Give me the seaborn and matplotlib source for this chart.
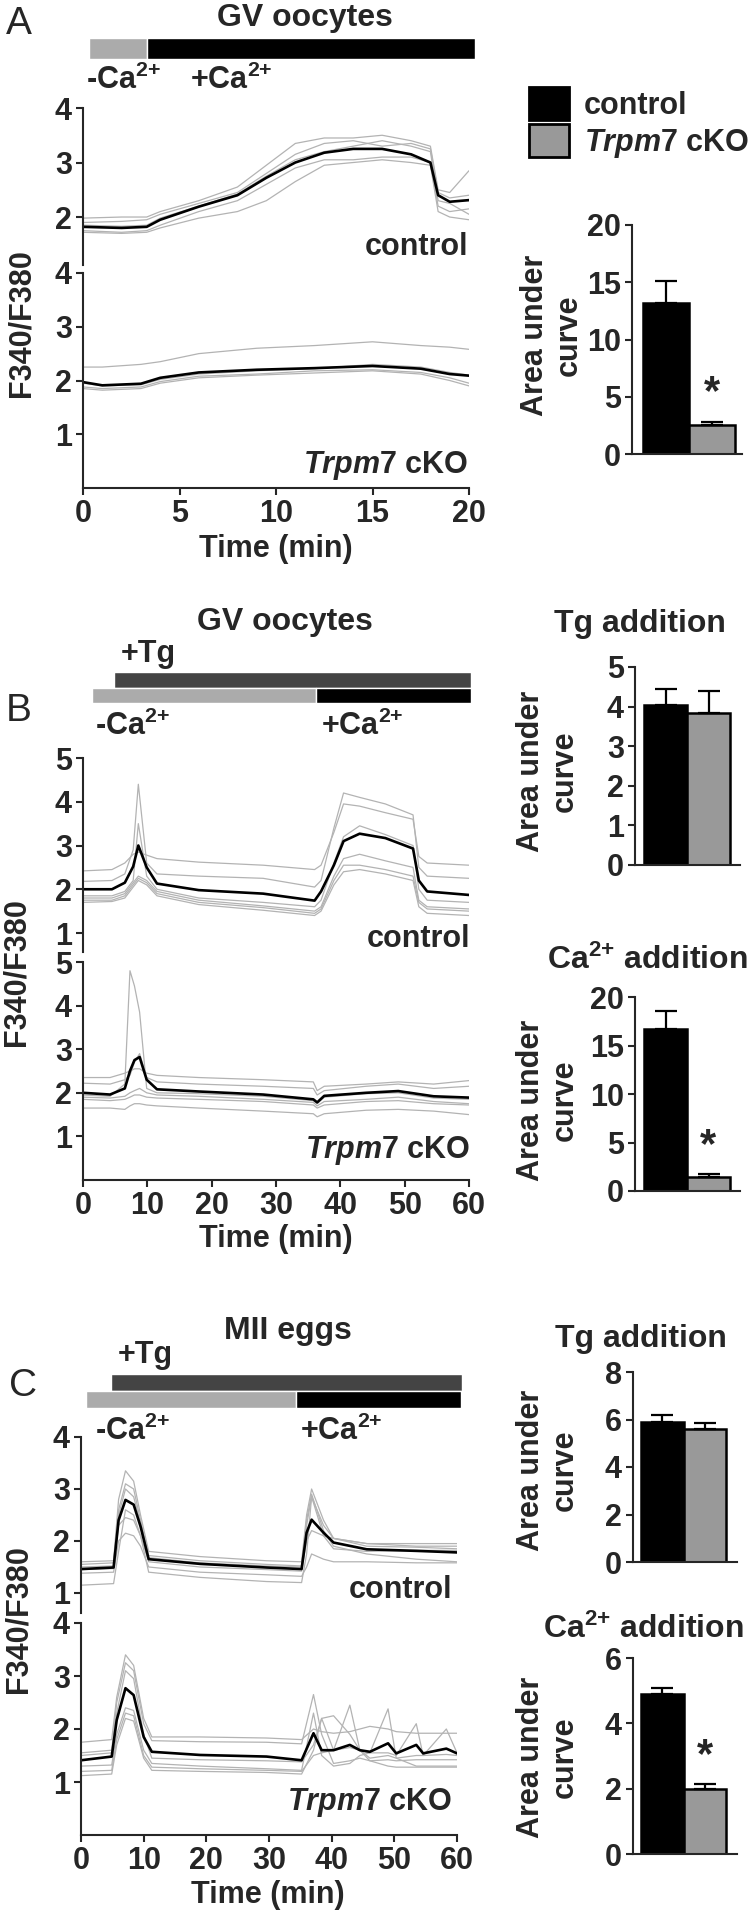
import matplotlib
matplotlib.use("Agg")
import matplotlib.pyplot as plt
import numpy as np
import pandas as pd
import seaborn as sns
from matplotlib.patches import Patch

# ======================= DATA =======================
GROUPS = ["control", "Trpm7 cKO"]
BAR_COLORS = {"control": "#000000", "Trpm7 cKO": "#999999"}

# ---- Panel A : GV oocytes, Ca2+ re-addition (0-20 min) ----
A_TIME = [0, 2, 3.3, 4, 6, 8, 9.5, 11, 12.5, 14, 15.5, 17, 18, 18.4, 19, 20]
A_CTRL_MEAN = [1.82, 1.80, 1.82, 1.95, 2.19, 2.40, 2.72, 3.00, 3.18, 3.25, 3.25, 3.15, 3.00, 2.40, 2.28, 2.31]
A_CTRL_CELLS = [
    [1.98, 2.00, 2.00, 2.10, 2.30, 2.55, 2.95, 3.35, 3.45, 3.45, 3.50, 3.40, 3.30, 2.50, 2.45, 2.85],
    [1.90, 1.92, 1.95, 2.05, 2.25, 2.45, 2.80, 3.15, 3.35, 3.40, 3.30, 3.35, 3.25, 2.45, 2.35, 2.40],
    [1.72, 1.70, 1.72, 1.80, 1.98, 2.10, 2.30, 2.65, 2.95, 3.00, 3.05, 3.00, 2.95, 2.10, 2.00, 1.95],
    [1.75, 1.72, 1.75, 1.85, 2.10, 2.30, 2.60, 2.90, 3.05, 3.05, 3.10, 3.10, 3.00, 2.20, 2.10, 2.15],
    [1.85, 1.83, 1.85, 1.98, 2.20, 2.42, 2.75, 3.05, 3.20, 3.30, 3.40, 3.30, 3.20, 2.30, 2.25, 2.05],
]
A_KO_TIME = [0, 1, 3, 4, 6, 9, 12, 15, 17.5, 19, 20]
A_KO_MEAN = [1.97, 1.91, 1.94, 2.05, 2.15, 2.20, 2.23, 2.27, 2.22, 2.12, 2.09]
A_KO_CELLS = [
    [2.25, 2.25, 2.30, 2.35, 2.50, 2.60, 2.65, 2.72, 2.65, 2.62, 2.58],
    [1.88, 1.85, 1.88, 1.98, 2.08, 2.12, 2.18, 2.20, 2.15, 2.05, 1.95],
    [1.85, 1.82, 1.85, 1.95, 2.05, 2.10, 2.14, 2.18, 2.12, 2.00, 1.90],
    [1.95, 1.90, 1.92, 2.02, 2.12, 2.18, 2.22, 2.30, 2.25, 2.15, 2.10],
]
A_AUC = [13.2, 2.5]
A_SEM = [1.9, 0.3]
A_STIM_NOCA = [(0.3, 3.0)]      # (start min, duration min)
A_STIM_CA = [(3.3, 17.0)]

# ---- Panel B : GV oocytes, Tg then Ca2+ (0-60 min) ----
B_TIME = [0, 4.5, 6.5, 7.8, 8.6, 9.9, 11.5, 18, 28, 36, 37, 39, 40.5, 43, 47, 51.3, 52.2, 53.5, 60]
B_CTRL_MEAN = [2.0, 2.0, 2.15, 2.52, 3.0, 2.5, 2.13, 1.98, 1.9, 1.74, 1.95, 2.55, 3.1, 3.27, 3.17, 2.93, 2.2, 1.95, 1.87]
B_CTRL_CELLS = [
    [2.42, 2.45, 2.60, 2.80, 2.85, 2.78, 2.70, 2.62, 2.55, 2.45, 2.55, 3.30, 3.95, 3.90, 3.75, 3.60, 2.75, 2.60, 2.55],
    [2.18, 2.20, 2.35, 2.90, 4.40, 2.60, 2.35, 2.30, 2.25, 2.05, 2.20, 3.40, 4.20, 4.10, 3.95, 3.70, 2.50, 2.30, 2.25],
    [1.85, 1.85, 1.95, 2.20, 3.50, 2.30, 2.00, 1.80, 1.70, 1.60, 1.75, 2.60, 3.20, 3.45, 3.25, 3.00, 2.00, 1.75, 1.70],
    [1.80, 1.80, 1.90, 2.15, 2.30, 2.20, 1.95, 1.75, 1.62, 1.50, 1.60, 2.30, 2.70, 2.80, 2.65, 2.50, 1.75, 1.60, 1.55],
    [1.75, 1.75, 1.85, 2.10, 2.25, 2.15, 1.90, 1.70, 1.58, 1.45, 1.55, 2.20, 2.55, 2.55, 2.45, 2.30, 1.70, 1.55, 1.50],
    [1.70, 1.72, 1.80, 2.05, 2.20, 2.10, 1.85, 1.65, 1.52, 1.40, 1.50, 2.10, 2.40, 2.45, 2.35, 2.20, 1.60, 1.45, 1.40],
]
B_KO_TIME = [0, 4.2, 6.5, 7.3, 8.0, 8.8, 9.9, 11.5, 18, 28, 35.8, 36.4, 37.5, 44, 49, 54.5, 60]
B_KO_MEAN = [2.0, 1.96, 2.1, 2.5, 2.75, 2.82, 2.3, 2.08, 2.03, 1.96, 1.85, 1.78, 1.93, 2.0, 2.04, 1.92, 1.89]
B_KO_CELLS = [
    [1.95, 1.92, 2.20, 4.80, 4.45, 3.85, 2.10, 2.00, 1.98, 1.92, 1.82, 1.75, 1.90, 1.98, 2.00, 1.88, 1.85],
    [2.35, 2.35, 2.45, 2.50, 2.55, 2.55, 2.45, 2.40, 2.35, 2.30, 2.25, 2.05, 2.15, 2.20, 2.25, 2.20, 2.28],
    [2.22, 2.20, 2.30, 2.40, 2.70, 2.90, 2.35, 2.25, 2.20, 2.15, 2.10, 1.95, 2.05, 2.15, 2.20, 2.10, 2.15],
    [1.90, 1.88, 1.92, 2.00, 2.05, 2.10, 2.00, 1.95, 1.92, 1.85, 1.78, 1.70, 1.80, 1.85, 1.90, 1.80, 1.75],
    [1.65, 1.65, 1.62, 1.70, 1.75, 1.75, 1.72, 1.70, 1.65, 1.58, 1.52, 1.45, 1.52, 1.60, 1.62, 1.58, 1.50],
    [1.85, 1.82, 1.85, 1.90, 1.95, 1.95, 1.90, 1.88, 1.85, 1.80, 1.72, 1.65, 1.72, 1.80, 1.82, 1.75, 1.72],
]
B_TG_AUC = [4.05, 3.85]
B_TG_SEM = [0.40, 0.55]
B_CA_AUC = [16.7, 1.4]
B_CA_SEM = [1.9, 0.4]
B_STIM_TG = [(4.8, 55.5)]
B_STIM_NOCA = [(1.4, 34.8)]
B_STIM_CA = [(36.2, 24.1)]

# ---- Panel C : MII eggs, Tg then Ca2+ (0-60 min) ----
C_TIME = [0, 5.2, 6.0, 7.1, 8.4, 9.5, 10.8, 19, 29.6, 35.2, 36.0, 36.8, 38.7, 40.3, 45.6, 53.5, 60]
C_CTRL_MEAN = [1.46, 1.49, 2.40, 2.79, 2.70, 2.28, 1.65, 1.56, 1.49, 1.46, 2.16, 2.41, 2.16, 1.97, 1.84, 1.81, 1.78]
C_CTRL_CELLS = [
    [1.60, 1.62, 2.80, 3.35, 3.15, 2.50, 1.80, 1.70, 1.62, 1.60, 2.50, 3.00, 2.40, 2.05, 1.95, 1.95, 1.95],
    [1.55, 1.58, 2.60, 3.10, 3.00, 2.40, 1.72, 1.62, 1.55, 1.52, 2.40, 2.90, 2.20, 1.90, 1.75, 1.65, 1.60],
    [1.50, 1.52, 2.50, 3.00, 2.85, 2.35, 1.68, 1.58, 1.52, 1.50, 2.30, 2.85, 2.30, 2.05, 1.90, 1.88, 1.85],
    [1.45, 1.47, 2.30, 2.45, 2.40, 2.10, 1.60, 1.50, 1.45, 1.42, 2.00, 2.20, 2.10, 2.05, 1.95, 1.90, 1.90],
    [1.38, 1.40, 2.00, 2.15, 2.10, 1.90, 1.50, 1.40, 1.35, 1.32, 1.50, 1.75, 1.65, 1.60, 1.60, 1.58, 1.58],
    [1.15, 1.18, 1.80, 2.60, 2.50, 2.10, 1.40, 1.30, 1.22, 1.20, 1.75, 2.85, 2.10, 1.85, 1.80, 1.82, 1.82],
]
C_KO_TIME = [0, 4.9, 5.7, 7.1, 8.4, 10, 11.3, 19, 29.6, 35.2, 37.1, 38.4, 40.3, 42.9, 44.5, 46.1, 49, 50.3, 53.5, 54.6, 58.3, 60]
C_KO_MEAN = [1.41, 1.48, 2.17, 2.77, 2.64, 1.85, 1.57, 1.51, 1.48, 1.41, 1.92, 1.60, 1.60, 1.70, 1.60, 1.57, 1.73, 1.54, 1.70, 1.54, 1.63, 1.54]
C_KO_CELLS = [
    [1.75, 1.80, 2.60, 3.40, 3.20, 2.20, 1.85, 1.85, 1.83, 1.80, 2.00, 1.95, 1.92, 1.95, 2.00, 2.05, 2.00, 1.95, 1.92, 1.92, 1.92, 1.92],
    [1.55, 1.60, 2.50, 3.25, 3.10, 2.10, 1.78, 1.76, 1.75, 1.72, 2.65, 1.90, 1.35, 1.40, 1.45, 1.40, 1.42, 1.40, 1.42, 1.42, 1.42, 1.42],
    [1.50, 1.55, 2.30, 3.10, 2.95, 1.90, 1.45, 1.42, 1.40, 1.38, 1.70, 2.20, 1.60, 2.45, 1.60, 1.45, 1.50, 1.45, 1.50, 1.50, 1.52, 1.50],
    [1.30, 1.32, 1.90, 2.40, 2.35, 1.60, 1.35, 1.30, 1.25, 1.22, 2.30, 1.50, 1.30, 1.35, 1.50, 1.55, 2.38, 1.45, 1.30, 1.30, 1.30, 1.30],
    [1.20, 1.22, 1.80, 2.30, 2.25, 1.50, 1.28, 1.25, 1.22, 1.20, 1.50, 1.55, 1.60, 1.65, 1.60, 1.55, 1.55, 1.50, 2.10, 1.50, 2.00, 1.55],
    [1.12, 1.15, 1.70, 2.20, 2.15, 1.45, 1.22, 1.20, 1.18, 1.15, 1.60, 2.20, 2.25, 1.90, 1.60, 1.40, 1.30, 1.28, 1.28, 1.28, 1.28, 1.28],
]
C_TG_AUC = [5.9, 5.6]
C_TG_SEM = [0.30, 0.25]
C_CA_AUC = [4.9, 2.0]
C_CA_SEM = [0.17, 0.15]
C_STIM_TG = [(4.8, 56.0)]
C_STIM_NOCA = [(0.8, 33.5)]
C_STIM_CA = [(34.3, 26.3)]

# ======================= STYLE =======================
W, H, DPI = 755, 1916, 100
sns.set_style("ticks")
plt.rcParams["font.family"] = ["Liberation Sans", "DejaVu Sans"]
plt.rcParams["font.weight"] = "bold"
plt.rcParams["mathtext.fontset"] = "custom"
plt.rcParams["mathtext.rm"] = "Liberation Sans:bold"
plt.rcParams["mathtext.bf"] = "Liberation Sans:bold"
plt.rcParams["mathtext.it"] = "Liberation Sans:italic:bold"
plt.rcParams["axes.linewidth"] = 1.5

TICK_FS = 22
LAB_FS = 22
TITLE_FS = 23
NOTE_FS = 22
LET_FS = 28
CELL_C = "#b3b3b3"
KO_LABEL = r"$\mathit{Trpm7}$ cKO"
CA = r"Ca$^{2{+}}$"

fig = plt.figure(figsize=(W / DPI, H / DPI), dpi=DPI)


def add_ax(box):
    x0, y0, x1, y1 = box
    ax = fig.add_axes([x0 / W, 1 - y1 / H, (x1 - x0) / W, (y1 - y0) / H])
    ax.patch.set_alpha(0)
    return ax


def ftext(x, y, s, **kw):
    kw.setdefault("fontsize", NOTE_FS)
    return fig.text(x / W, 1 - y / H, s, **kw)


def trace_axes(box, xmax, ylim, yticks, t, cells, mean, xticks=None):
    ax = add_ax(box)
    for c in cells:
        sns.lineplot(x=t, y=c, ax=ax, color=CELL_C, linewidth=0.9, legend=False,
                     estimator=None, sort=False)
    sns.lineplot(x=t, y=mean, ax=ax, color="black", linewidth=1.9, legend=False,
                 estimator=None, sort=False)
    ax.set_xlim(0, xmax)
    ax.set_ylim(*ylim)
    ax.set_yticks(yticks)
    ax.set_xlabel("")
    ax.set_ylabel("")
    if xticks is None:
        sns.despine(ax=ax, bottom=True)
        ax.set_xticks([])
    else:
        sns.despine(ax=ax)
        ax.set_xticks(xticks)
    ax.tick_params(direction="out", length=5, width=1.5, labelsize=TICK_FS, pad=3)
    return ax


def bar_axes(box, bars_px, vmax, yticks, vals, sems, star):
    ax = add_ax(box)
    df = pd.DataFrame({"group": GROUPS, "auc": vals})
    sns.barplot(data=df, x="group", y="auc", hue="group", palette=BAR_COLORS,
                width=1.0, edgecolor="black", linewidth=1.8, errorbar=None,
                legend=False, saturation=1, ax=ax)
    ax.errorbar([0, 1], vals, yerr=[[0, 0], sems], fmt="none", ecolor="black",
                elinewidth=1.6, capsize=8, capthick=1.6, zorder=5)
    x0, _, x1, _ = box
    b0, b1 = bars_px
    unit = (b1 - b0) / 2.0
    ax.set_xlim(-0.5 - (b0 - x0) / unit, 1.5 + (x1 - b1) / unit)
    ax.set_ylim(0, vmax)
    ax.set_yticks(yticks)
    ax.set_xticks([])
    ax.set_xlabel("")
    ax.set_ylabel("")
    sns.despine(ax=ax)
    ax.tick_params(axis="y", direction="out", length=5, width=1.5, labelsize=TICK_FS, pad=3)
    if star:
        ax.text(1, vals[1] + sems[1] + vmax * 0.04, "*", ha="center", va="bottom",
                fontsize=30, fontweight="bold")
    return ax


def stim_axes(box, xmax, rows):
    ax = add_ax(box)
    n = len(rows)
    for i, (spans, color) in enumerate(rows):
        ax.broken_barh(spans, (n - 1 - i, 1), facecolors=color, clip_on=False)
    ax.set_xlim(0, xmax)
    ax.set_ylim(0, n)
    ax.axis("off")
    return ax


# ======================= PANEL A =======================
ftext(6, 34, "A", fontsize=LET_FS, fontweight="normal", va="baseline")
ftext(305, 26, "GV oocytes", fontsize=TITLE_FS, ha="center", va="baseline")
stim_axes((83, 38, 469, 59), 20, [(A_STIM_NOCA, "#ababab"), ])
stim_axes((83, 38, 469, 59), 20, [(A_STIM_CA, "#000000"), ])
ftext(86, 89, "-" + CA, va="baseline")
ftext(190, 89, "+" + CA, va="baseline")

trace_axes((83, 108, 469, 265), 20, (1.12, 4), [2, 3, 4], A_TIME, A_CTRL_CELLS, A_CTRL_MEAN)
ftext(468, 255, "control", ha="right", va="baseline")
trace_axes((83, 273, 469, 488), 20, (0, 4), [1, 2, 3, 4], A_KO_TIME, A_KO_CELLS, A_KO_MEAN,
           xticks=[0, 5, 10, 15, 20])
ftext(468, 473, KO_LABEL, ha="right", va="baseline")
ftext(276, 557, "Time (min)", fontsize=LAB_FS, ha="center", va="baseline")
ftext(22, 323, "F340/F380", fontsize=LAB_FS, rotation=90, ha="center", va="center")

fig.legend(handles=[Patch(facecolor="#000000", edgecolor="black", linewidth=2),
                    Patch(facecolor="#999999", edgecolor="black", linewidth=2)],
           labels=["control", KO_LABEL], loc="upper left",
           bbox_to_anchor=(529 / W, 1 - 87 / H), frameon=False, fontsize=NOTE_FS,
           handlelength=1.3, handleheight=1.3, handletextpad=0.5, labelspacing=0.1,
           borderpad=0, borderaxespad=0)
bar_axes((632, 225, 742, 454), (643, 735), 20, [0, 5, 10, 15, 20], A_AUC, A_SEM, True)
ftext(552, 335, "Area under\ncurve", fontsize=LAB_FS, rotation=90, ha="center",
      va="center", multialignment="center", linespacing=1.15)

# ======================= PANEL B =======================
ftext(6, 721, "B", fontsize=LET_FS, fontweight="normal", va="baseline")
ftext(285, 630, "GV oocytes", fontsize=TITLE_FS, ha="center", va="baseline")
ftext(121, 662, "+Tg", va="baseline")
stim_axes((83, 672, 469, 703), 60, [(B_STIM_TG, "#444444"), (B_STIM_NOCA, "#ababab")])
stim_axes((83, 672, 469, 703), 60, [([], "#444444"), (B_STIM_CA, "#000000")])
ftext(95, 735, "-" + CA, va="baseline")
ftext(321, 735, "+" + CA, va="baseline")

trace_axes((83, 758, 469, 952), 60, (0.566, 5), [1, 2, 3, 4, 5], B_TIME, B_CTRL_CELLS, B_CTRL_MEAN)
ftext(470, 947, "control", ha="right", va="baseline")
trace_axes((83, 962, 469, 1180), 60, (0, 5), [1, 2, 3, 4, 5], B_KO_TIME, B_KO_CELLS, B_KO_MEAN,
           xticks=[0, 10, 20, 30, 40, 50, 60])
ftext(470, 1158, KO_LABEL, ha="right", va="baseline")
ftext(276, 1247, "Time (min)", fontsize=LAB_FS, ha="center", va="baseline")
ftext(17, 972, "F340/F380", fontsize=LAB_FS, rotation=90, ha="center", va="center")

ftext(640, 632, "Tg addition", fontsize=TITLE_FS, ha="center", va="baseline")
bar_axes((635, 667, 740, 865), (644, 730), 5, [0, 1, 2, 3, 4, 5], B_TG_AUC, B_TG_SEM, False)
ftext(548, 771, "Area under\ncurve", fontsize=LAB_FS, rotation=90, ha="center",
      va="center", multialignment="center", linespacing=1.15)
ftext(647, 969, CA + " addition", fontsize=TITLE_FS, ha="center", va="baseline")
bar_axes((635, 997, 740, 1191), (644, 730), 20, [0, 5, 10, 15, 20], B_CA_AUC, B_CA_SEM, True)
ftext(548, 1100, "Area under\ncurve", fontsize=LAB_FS, rotation=90, ha="center",
      va="center", multialignment="center", linespacing=1.15)

# ======================= PANEL C =======================
ftext(9, 1396, "C", fontsize=LET_FS, fontweight="normal", va="baseline")
ftext(288, 1339, "MII eggs", fontsize=TITLE_FS, ha="center", va="baseline")
ftext(118, 1363, "+Tg", va="baseline")
stim_axes((81, 1374, 457, 1408), 60, [(C_STIM_TG, "#444444"), (C_STIM_NOCA, "#ababab")])
stim_axes((81, 1374, 457, 1408), 60, [([], "#444444"), (C_STIM_CA, "#000000")])
ftext(95, 1440, "-" + CA, va="baseline")
ftext(300, 1440, "+" + CA, va="baseline")

trace_axes((81, 1437, 457, 1613), 60, (0.615, 4), [1, 2, 3, 4], C_TIME, C_CTRL_CELLS, C_CTRL_MEAN)
ftext(452, 1598, "control", ha="right", va="baseline")
trace_axes((81, 1623, 457, 1835), 60, (0, 4), [1, 2, 3, 4], C_KO_TIME, C_KO_CELLS, C_KO_MEAN,
           xticks=[0, 10, 20, 30, 40, 50, 60])
ftext(452, 1810, KO_LABEL, ha="right", va="baseline")
ftext(268, 1903, "Time (min)", fontsize=LAB_FS, ha="center", va="baseline")
ftext(19, 1619, "F340/F380", fontsize=LAB_FS, rotation=90, ha="center", va="center")

ftext(641, 1347, "Tg addition", fontsize=TITLE_FS, ha="center", va="baseline")
bar_axes((633, 1372, 737, 1562), (641, 726), 8, [0, 2, 4, 6, 8], C_TG_AUC, C_TG_SEM, False)
ftext(548, 1470, "Area under\ncurve", fontsize=LAB_FS, rotation=90, ha="center",
      va="center", multialignment="center", linespacing=1.15)
ftext(643, 1638, CA + " addition", fontsize=TITLE_FS, ha="center", va="baseline")
bar_axes((633, 1658, 737, 1854), (641, 726), 6, [0, 2, 4, 6], C_CA_AUC, C_CA_SEM, True)
ftext(548, 1757, "Area under\ncurve", fontsize=LAB_FS, rotation=90, ha="center",
      va="center", multialignment="center", linespacing=1.15)

fig.savefig("out.png", dpi=DPI)
